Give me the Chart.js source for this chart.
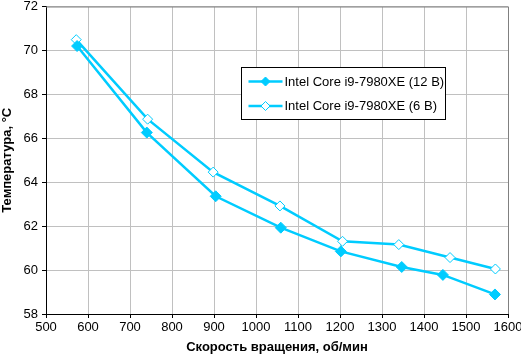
<!DOCTYPE html>
<html><head><meta charset="utf-8">
<script src="https://cdn.jsdelivr.net/npm/chart.js@4/dist/chart.umd.min.js"></script>
<style>html,body{margin:0;padding:0;background:#fff}#wrap{width:521px;height:355px}</style>
</head><body><div id="wrap"><canvas id="c" width="521" height="355"></canvas></div>
<script>
const seriesNames = ["Intel Core i9-7980XE (12 B)", "Intel Core i9-7980XE (6 B)"];
const rpm12 = [574, 740, 904, 1059, 1202, 1347, 1445, 1569];
const temp12 = [70.2, 66.26, 63.36, 61.93, 60.85, 60.14, 59.78, 58.89];
const rpm6 = [572, 742, 898, 1057, 1206, 1340, 1462, 1570];
const temp6 = [70.49, 66.87, 64.46, 62.92, 61.31, 61.16, 60.57, 60.05];
const xTitle = "Скорость вращения, об/мин";
const yTitle = "Температура, °C";
const xMin = 500, xMax = 1600, xStep = 100;
const yMin = 58, yMax = 72, yStep = 2;

const cyan = "#00CCFF";
const FONT = "'Liberation Sans', Arial, sans-serif";

const legendPlugin = {
  id: 'boxLegend',
  afterDatasetsDraw(chart) {
    const ctx = chart.ctx, a = chart.chartArea;
    ctx.save();
    ctx.strokeStyle = '#808080'; ctx.lineWidth = 1;
    ctx.beginPath();
    ctx.moveTo(a.left, a.top + 0.5); ctx.lineTo(a.right + 0.5, a.top + 0.5); ctx.lineTo(a.right + 0.5, a.bottom);
    ctx.stroke();
    const bx = 241.5, by = 67.5, bw = 204, bh = 52;
    ctx.fillStyle = '#fff'; ctx.fillRect(bx, by, bw, bh);
    ctx.strokeStyle = '#000'; ctx.strokeRect(bx, by, bw, bh);
    chart.data.datasets.forEach((ds, i) => {
      const y = by + 14 + i * 24.5;
      ctx.strokeStyle = ds.borderColor; ctx.lineWidth = 2.5;
      ctx.beginPath(); ctx.moveTo(bx + 7, y); ctx.lineTo(bx + 41, y); ctx.stroke();
      const cx = bx + 24, r = 4.5;
      ctx.beginPath(); ctx.moveTo(cx, y - r); ctx.lineTo(cx + r, y); ctx.lineTo(cx, y + r); ctx.lineTo(cx - r, y); ctx.closePath();
      ctx.fillStyle = ds.pointBackgroundColor; ctx.fill();
      ctx.lineWidth = 1; ctx.strokeStyle = ds.pointBorderColor; ctx.stroke();
      ctx.fillStyle = '#000'; ctx.font = '13px ' + FONT; ctx.textBaseline = 'middle'; ctx.textAlign = 'left';
      ctx.fillText(ds.label, bx + 43, y + 0.5);
    });
    ctx.restore();
  }
};

new Chart(document.getElementById('c'), {
  type: 'scatter',
  data: {
    datasets: [
      { label: seriesNames[0], data: rpm12.map((x, i) => ({x, y: temp12[i]})), showLine: true,
        borderColor: cyan, borderWidth: 2.5, pointStyle: 'rectRot', pointRadius: 5.5,
        pointBackgroundColor: cyan, pointBorderColor: cyan, pointBorderWidth: 1 },
      { label: seriesNames[1], data: rpm6.map((x, i) => ({x, y: temp6[i]})), showLine: true,
        borderColor: cyan, borderWidth: 2.5, pointStyle: 'rectRot', pointRadius: 5,
        pointBackgroundColor: '#fff', pointBorderColor: cyan, pointBorderWidth: 1 }
    ]
  },
  options: {
    responsive: false, animation: false, devicePixelRatio: 1,
    layout: { padding: { left: 0, right: 13, top: 5, bottom: 0 } },
    plugins: { legend: { display: false }, tooltip: { enabled: false } },
    scales: {
      x: {
        type: 'linear', min: xMin, max: xMax,
        ticks: { stepSize: xStep, color: '#000', font: { family: FONT, size: 13 }, padding: 2, maxRotation: 0,
                 callback: v => String(v) },
        grid: { color: '#C0C0C0', tickColor: '#000', tickLength: 4 },
        border: { color: '#000', width: 1 },
        title: { display: true, text: xTitle, color: '#000', font: { family: FONT, size: 13, weight: 'bold' }, padding: { top: 2, bottom: 0 } },
        afterFit(s) { s.height = 41; s.paddingLeft = 0; s.paddingRight = 0; }
      },
      y: {
        min: yMin, max: yMax,
        ticks: { stepSize: yStep, color: '#000', font: { family: FONT, size: 13 }, padding: 4, callback: v => String(v) },
        grid: { color: '#C0C0C0', tickColor: '#000', tickLength: 4 },
        border: { color: '#000', width: 1 },
        title: { display: true, text: yTitle, color: '#000', font: { family: FONT, size: 13, weight: 'bold' }, padding: { top: 0, bottom: 2 } },
        afterFit(s) { s.width = 46; s.paddingTop = 0; s.paddingBottom = 0; }
      }
    }
  },
  plugins: [legendPlugin]
});
</script>
</body></html>
